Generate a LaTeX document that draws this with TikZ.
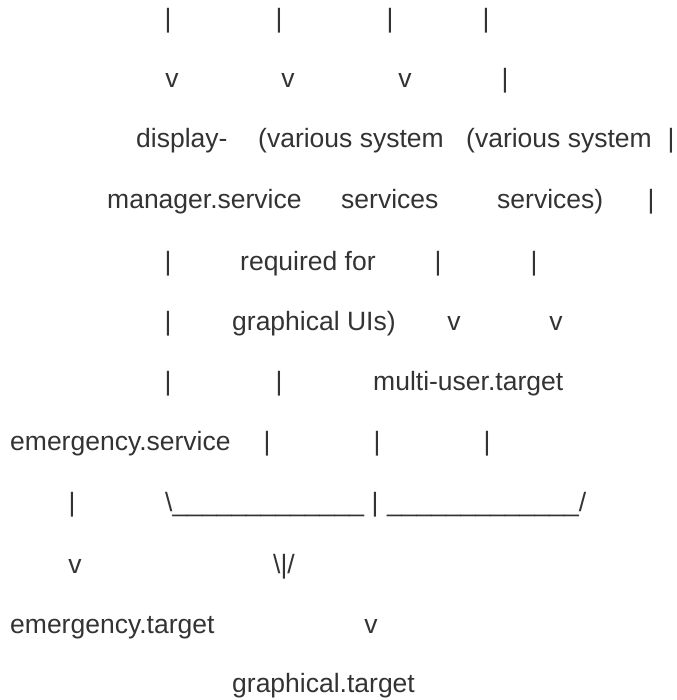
\documentclass[tikz,border=0pt]{standalone}
\usepackage{fontspec}
\setmainfont{Liberation Sans}
\usepackage{xcolor}
\definecolor{ink}{HTML}{333333}
\newcommand{\unders}{\_\_\_\_\_\_\_\_\_\_\_\_\_}

\begin{document}
\begin{tikzpicture}[x=1pt,y=-1pt,every node/.style={inner sep=0pt,text=ink,font=\fontsize{26.5}{30}\selectfont}]
  \tikzstyle{word} = [anchor=base west]
  \tikzstyle{glyph} = [anchor=base]
  \useasboundingbox (0,0) rectangle (676,700);

  % row 1
  \node[glyph] (ra1) at (168,28) {|};
  \node[glyph] (ra2) at (279,28) {|};
  \node[glyph] (ra3) at (390,28) {|};
  \node[glyph] (ra4) at (486,28) {|};
  % row 2
  \node[glyph] (rb1) at (172,88) {v};
  \node[glyph] (rb2) at (288,88) {v};
  \node[glyph] (rb3) at (405,88) {v};
  \node[glyph] (rb4) at (505,88) {|};
  % row 3
  \node[word]  (dm1) at (136,148) {display-};
  \node[word]  (vs1) at (258,148) {(various system};
  \node[word]  (vs2) at (466,148) {(various system};
  \node[glyph] (rc4) at (671,148) {|};
  % row 4
  \node[word]  (dm2) at (107,209) {manager.service};
  \node[word]  (vs3) at (341,209) {services};
  \node[word]  (vs4) at (497,209) {services)};
  \node[glyph] (rd4) at (651,209) {|};
  % row 5
  \node[glyph] (re1) at (168,270) {|};
  \node[word]  (vs5) at (240,270) {required for};
  \node[glyph] (re3) at (438,270) {|};
  \node[glyph] (re4) at (534,270) {|};
  % row 6
  \node[glyph] (rf1) at (168,330) {|};
  \node[word]  (vs6) at (232,330) {graphical UIs)};
  \node[glyph] (rf3) at (454,330) {v};
  \node[glyph] (rf4) at (556,330) {v};
  % row 7
  \node[glyph] (rg1) at (168,390) {|};
  \node[glyph] (rg2) at (279,390) {|};
  \node[word]  (mu)  at (373,390) {multi-user.target};
  % row 8
  \node[word]  (es)  at (10,450)  {emergency.service};
  \node[glyph] (rh2) at (267,450) {|};
  \node[glyph] (rh3) at (377,450) {|};
  \node[glyph] (rh4) at (487,450) {|};
  % row 9
  \node[glyph] (ri1) at (72,511)  {|};
  \node[word]  (jl)  at (165,511) {\textbackslash\unders};
  \node[glyph] (ri3) at (375,511) {|};
  \node[word]  (jr)  at (387,511) {\unders/};
  % row 10
  \node[glyph] (rj1) at (75,573)  {v};
  \node[glyph] (rj2) at (284,573) {\textbackslash|/};
  % row 11
  \node[word]  (et)  at (10,633)  {emergency.target};
  \node[glyph] (rk2) at (371,633) {v};
  % row 12
  \node[word]  (gt)  at (232,692) {graphical.target};
\end{tikzpicture}
\end{document}
